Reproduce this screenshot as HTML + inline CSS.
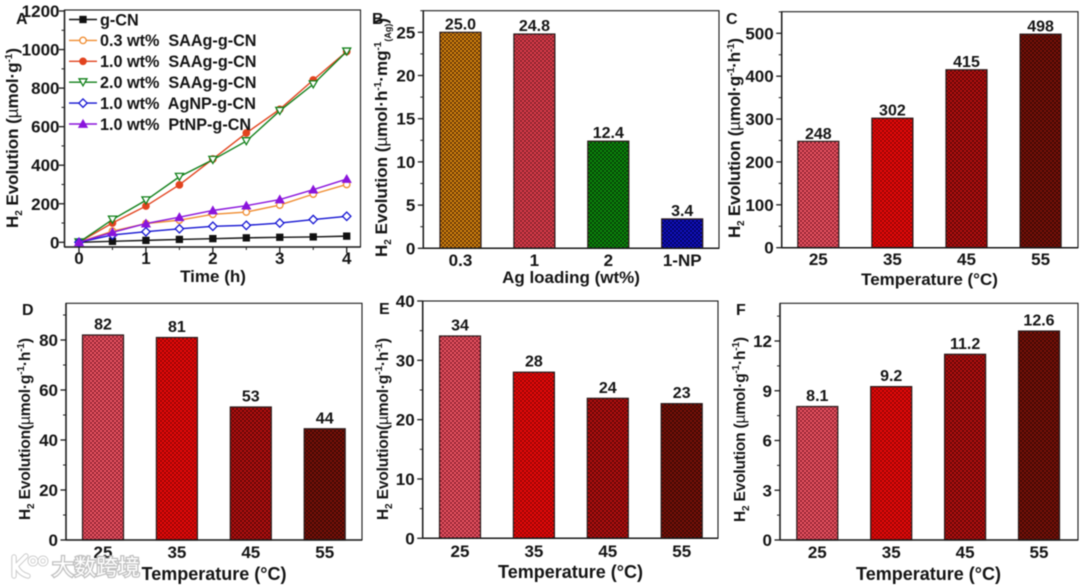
<!DOCTYPE html>
<html lang="en">
<head>
<meta charset="utf-8">
<title>H2 evolution charts</title>
<style>
html,body{margin:0;padding:0;background:#fff;width:1080px;height:587px;overflow:hidden}
svg{display:block;filter:blur(.45px)}
text{font-family:"Liberation Sans","Noto Sans CJK SC",sans-serif;font-weight:bold;fill:#151515}
.tick{font-size:17px}
.title{font-size:17px}
.title-lg{font-size:18px}
.letter{font-size:16px}
.val{font-size:16px}
.leg{font-size:16.2px}
.mu{font-weight:normal}
</style>
</head>
<body>
<svg id="figure" width="1080" height="587" viewBox="0 0 1080 587" xmlns="http://www.w3.org/2000/svg">
<defs id="defs"></defs>
<rect x="0" y="0" width="1080" height="587" fill="#fff"/>
<g id="plots"></g>

<g>
<text class="letter" x="16" y="24">A</text>
<text class="letter" x="372" y="24">B</text>
<text class="letter" x="726" y="24">C</text>
<text class="letter" x="22" y="315">D</text>
<text class="letter" x="379" y="314">E</text>
<text class="letter" x="736" y="315">F</text>
</g>

<g>
<text class="title" x="213" y="282" text-anchor="middle">Time (h)</text>
<text class="title" x="571" y="283" text-anchor="middle">Ag loading (wt%)</text>
<text class="title" x="929.5" y="285" text-anchor="middle">Temperature (°C)</text>
<text class="title-lg" x="214" y="580" text-anchor="middle">Temperature (°C)</text>
<text class="title-lg" x="570.5" y="578" text-anchor="middle">Temperature (°C)</text>
<text class="title-lg" x="928.5" y="580" text-anchor="middle">Temperature (°C)</text>
</g>

<g>
<text class="title" transform="translate(18,228) rotate(-90)" textLength="180">H<tspan dy="4" font-size="10">2</tspan><tspan dy="-4"> Evolution (</tspan><tspan class="mu">µ</tspan>mol·g<tspan dy="-6" font-size="10">-1</tspan><tspan dy="6">)</tspan></text>
<text class="title" transform="translate(387,257) rotate(-90)" textLength="239">H<tspan dy="4" font-size="10">2</tspan><tspan dy="-4"> Evolution (</tspan><tspan class="mu">µ</tspan>mol·h<tspan dy="-6" font-size="10">-1</tspan><tspan dy="6">·mg</tspan><tspan dy="-6" font-size="10">-1</tspan><tspan dy="10" font-size="9">(Ag)</tspan><tspan dy="-4">)</tspan></text>
<text class="title" transform="translate(740,238) rotate(-90)" textLength="200">H<tspan dy="4" font-size="10">2</tspan><tspan dy="-4"> Evolution (</tspan><tspan class="mu">µ</tspan>mol·g<tspan dy="-6" font-size="10">-1</tspan><tspan dy="6">·h</tspan><tspan dy="-6" font-size="10">-1</tspan><tspan dy="6">)</tspan></text>
<text class="title" transform="translate(30,520) rotate(-90)" textLength="182" style="font-size:15.5px">H<tspan dy="4" font-size="10">2</tspan><tspan dy="-4"> Evolution(</tspan><tspan class="mu">µ</tspan>mol·g<tspan dy="-6" font-size="10">-1</tspan><tspan dy="6">·h</tspan><tspan dy="-6" font-size="10">-1</tspan><tspan dy="6">)</tspan></text>
<text class="title" transform="translate(388,520) rotate(-90)" textLength="182" style="font-size:15.5px">H<tspan dy="4" font-size="10">2</tspan><tspan dy="-4"> Evolution(</tspan><tspan class="mu">µ</tspan>mol·g<tspan dy="-6" font-size="10">-1</tspan><tspan dy="6">·h</tspan><tspan dy="-6" font-size="10">-1</tspan><tspan dy="6">)</tspan></text>
<text class="title" transform="translate(745,522) rotate(-90)" textLength="185" style="font-size:15.5px">H<tspan dy="4" font-size="10">2</tspan><tspan dy="-4"> Evolution (</tspan><tspan class="mu">µ</tspan>mol·g<tspan dy="-6" font-size="10">-1</tspan><tspan dy="6">·h</tspan><tspan dy="-6" font-size="10">-1</tspan><tspan dy="6">)</tspan></text>
</g>

<g opacity="0.95">
<g fill="none" stroke="#fff" stroke-width="3.4" stroke-linecap="round">
<path d="M14 557 L14 576 M26 556 L16 566 Q20 574 28 576" stroke="#c9c9c9" stroke-width="5.4"/>
<path d="M14 557 L14 576 M26 556 L16 566 Q20 574 28 576"/>
<circle cx="33" cy="561" r="3.6" stroke="#c9c9c9" stroke-width="3.8"/>
<circle cx="43" cy="561" r="3.6" stroke="#c9c9c9" stroke-width="3.8"/>
<circle cx="33" cy="561" r="3.6" stroke-width="2"/>
<circle cx="43" cy="561" r="3.6" stroke-width="2"/>
</g>
<text x="52" y="575" font-size="22" style="font-family:'Noto Sans CJK SC',sans-serif;font-weight:normal;fill:#fff;stroke:#bdbdbd;stroke-width:2.6px;paint-order:stroke">大数跨境</text>
</g>
</svg>

<script>
// ---- Panel A data ----
const panelATime = [0, 0.5, 1, 1.5, 2, 2.5, 3, 3.5, 4];
const panelAGCN = [0, 5, 10, 15, 19, 23, 26, 28, 32];
const panelASAAg03 = [0, 58, 97, 115, 145, 157, 193, 250, 300];
const panelASAAg10 = [0, 100, 188, 298, 432, 567, 690, 842, 990];
const panelASAAg20 = [0, 118, 218, 340, 428, 525, 682, 820, 990];
const panelAAgNP = [0, 38, 55, 70, 83, 88, 100, 118, 135];
const panelAPtNP = [0, 52, 97, 130, 165, 190, 222, 273, 328];
const panelAYTicks = [0, 200, 400, 600, 800, 1000, 1200];
const panelAXTicks = [0, 1, 2, 3, 4];
const panelANames = ['g-CN', '0.3 wt%\u00a0 SAAg-g-CN', '1.0 wt%\u00a0 SAAg-g-CN', '2.0 wt%\u00a0 SAAg-g-CN', '1.0 wt%\u00a0 AgNP-g-CN', '1.0 wt%\u00a0 PtNP-g-CN'];

// ---- Panel B data ----
const panelBCategories = ['0.3', '1', '2', '1-NP'];
const panelBValues = [25.0, 24.8, 12.4, 3.4];
const panelBLabels = ['25.0', '24.8', '12.4', '3.4'];
const panelBTicks = [0, 5, 10, 15, 20, 25];

// ---- Panel C data ----
const panelCCategories = ['25', '35', '45', '55'];
const panelCValues = [248, 302, 415, 498];
const panelCLabels = ['248', '302', '415', '498'];
const panelCTicks = [0, 100, 200, 300, 400, 500];

// ---- Panel D data ----
const panelDCategories = ['25', '35', '45', '55'];
const panelDValues = [82, 81, 53.2, 44.5];
const panelDLabels = ['82', '81', '53', '44'];
const panelDTicks = [0, 20, 40, 60, 80];

// ---- Panel E data ----
const panelECategories = ['25', '35', '45', '55'];
const panelEValues = [34.1, 28, 23.6, 22.7];
const panelELabels = ['34', '28', '24', '23'];
const panelETicks = [0, 10, 20, 30, 40];

// ---- Panel F data ----
const panelFCategories = ['25', '35', '45', '55'];
const panelFValues = [8.05, 9.25, 11.2, 12.6];
const panelFLabels = ['8.1', '9.2', '11.2', '12.6'];
const panelFTicks = [0, 3, 6, 9, 12];

const NS = 'http://www.w3.org/2000/svg';
const plots = document.getElementById('plots');
const defs = document.getElementById('defs');
const AXIS = '#1a1a1a';

function mk(tag, attrs, parent) {
  const e = document.createElementNS(NS, tag);
  for (const k in attrs) e.setAttribute(k, attrs[k]);
  if (parent) parent.appendChild(e);
  return e;
}
function linearScale(d0, d1, r0, r1) {
  return function (v) { return r0 + (v - d0) * (r1 - r0) / (d1 - d0); };
}

// hatch patterns
const patternStyles = {
  orange: ['#e08c10', '#5e3204'], rose: ['#e5404e', '#82202a'],
  green: ['#0b8f0b', '#063c06'], blue: ['#1212c8', '#02025e'],
  t1: ['#f25a68', '#8e2030'], t2: ['#f20a0a', '#920404'],
  t3: ['#bc1010', '#5e0606'], t4: ['#801208', '#3a0704']
};
for (const id in patternStyles) {
  const p = mk('pattern', {id: 'hatch-' + id, width: 4, height: 4, patternUnits: 'userSpaceOnUse'}, defs);
  mk('rect', {width: 4, height: 4, fill: patternStyles[id][0]}, p);
  mk('rect', {width: 2, height: 2, fill: patternStyles[id][1]}, p);
  mk('rect', {x: 2, y: 2, width: 2, height: 2, fill: patternStyles[id][1]}, p);
}

function drawFrame(g, name, box) {
  const frame = mk('rect', {x: box.l, y: box.t, width: box.r - box.l, height: box.b - box.t, fill: 'none', stroke: AXIS, 'stroke-width': 1.1}, g);
  
  
  const left = mk('line', {x1: box.l, x2: box.l, y1: box.t, y2: box.b, stroke: AXIS, 'stroke-width': 1.5}, g);
  
  
  const bottom = mk('line', {x1: box.l, x2: box.r, y1: box.b, y2: box.b, stroke: AXIS, 'stroke-width': 1.5}, g);
  
  
}

function drawYTicks(g, name, box, y, ticks, labelGap) {
  const step = ticks[1] - ticks[0];
  let v = ticks[0];
  while (y(v + step / 2) > box.t) {
    const m = mk('line', {x1: box.l - 3, x2: box.l, y1: y(v + step / 2), y2: y(v + step / 2), stroke: AXIS, 'stroke-width': 1}, g);
    
    
    v += step;
  }
  ticks.forEach(function (t) {
    const l = mk('line', {x1: box.l - 5.5, x2: box.l, y1: y(t), y2: y(t), stroke: AXIS, 'stroke-width': 1.3}, g);
    
    
    const s = mk('text', {x: box.l - labelGap, y: y(t) + 6, 'text-anchor': 'end', class: 'tick'}, g);
    s.textContent = String(t);
    
    
  });
}

function drawBarPanel(name, box, yTop, topValue, zeroY, firstCenter, step, categories, values, labels, ticks, fills, labelBaseline, valueGap) {
  const g = mk('g', {}, plots);
  
  
  const y = linearScale(0, topValue, zeroY, yTop);
  const x = function (i) { return firstCenter + i * step; };
  const barWidth = 41;
  categories.forEach(function (c, i) {
    const r = mk('rect', {x: x(i) - barWidth / 2, y: y(values[i]), width: barWidth, height: y(0) - y(values[i]), fill: 'url(#hatch-' + fills[i] + ')', stroke: '#2a1a1a', 'stroke-width': 1.2}, g);
    
    
    const v = mk('text', {x: x(i), y: y(values[i]) - valueGap, 'text-anchor': 'middle', class: 'val'}, g);
    v.textContent = labels[i];
    
    
    const t = mk('text', {x: x(i), y: labelBaseline, 'text-anchor': 'middle', class: 'tick'}, g);
    t.textContent = c;
    
    
  });
  drawFrame(g, name, box);
  drawYTicks(g, name, box, y, ticks, 8);
}

function drawMarker(g, kind, px, py, color, fill) {
  const a = {stroke: color, 'stroke-width': 1.3, fill: fill};
  let m;
  if (kind === 'square') { a.x = px - 3; a.y = py - 3; a.width = 6; a.height = 6; m = mk('rect', a, g); }
  else if (kind === 'circle') { a.cx = px; a.cy = py; a.r = 3.2; m = mk('circle', a, g); }
  else if (kind === 'down') { a.points = [px - 4, py - 3.4, px + 4, py - 3.4, px, py + 3.6].join(' '); m = mk('polygon', a, g); }
  else if (kind === 'up') { a.points = [px - 4, py + 3.2, px + 4, py + 3.2, px, py - 3.8].join(' '); m = mk('polygon', a, g); }
  else { a.points = [px, py - 4.2, px + 4.2, py, px, py + 4.2, px - 4.2, py].join(' '); m = mk('polygon', a, g); }
  return m;
}

// ---- Panel A ----
(function () {
  const name = 'panel-a';
  const box = {l: 64.5, r: 360.5, t: 10, b: 247};
  const g = mk('g', {}, plots);
  
  
  const x = linearScale(0, 4, 79, 346.7);
  const y = linearScale(0, 1200, 242.3, 11);
  drawFrame(g, name, box);
  drawYTicks(g, name, box, y, panelAYTicks, 5);
  panelAXTicks.forEach(function (t, i) {
    const l = mk('line', {x1: x(t), x2: x(t), y1: box.b, y2: box.b + 6, stroke: AXIS, 'stroke-width': 1.3}, g);
    
    
    const s = mk('text', {x: x(t), y: 264, 'text-anchor': 'middle', class: 'tick'}, g);
    s.textContent = String(t);
    
    
    if (i < panelAXTicks.length - 1) {
      const mid = (t + panelAXTicks[i + 1]) / 2;
      const m = mk('line', {x1: x(mid), x2: x(mid), y1: box.b, y2: box.b + 3, stroke: AXIS, 'stroke-width': 1}, g);
      
      
    }
  });
  const series = [
    {values: panelAGCN, color: '#111111', fill: '#111111', kind: 'square', slug: 'g-cn'},
    {values: panelASAAg03, color: '#f08c30', fill: '#ffffff', kind: 'circle', slug: 'saag-03'},
    {values: panelASAAg10, color: '#e2431e', fill: '#e2431e', kind: 'circle', slug: 'saag-10'},
    {values: panelASAAg20, color: '#12801a', fill: '#ffffff', kind: 'down', slug: 'saag-20'},
    {values: panelAAgNP, color: '#1414d2', fill: '#ffffff', kind: 'diamond', slug: 'agnp'},
    {values: panelAPtNP, color: '#8a14dc', fill: '#8a14dc', kind: 'up', slug: 'ptnp'}
  ];
  const legendRowY = linearScale(0, 5, 19.5, 124);
  series.forEach(function (s, i) {
    const sg = mk('g', {}, g);
    
    
    const pts = panelATime.map(function (t, k) { return x(t) + ',' + y(s.values[k]); }).join(' ');
    const line = mk('polyline', {points: pts, fill: 'none', stroke: s.color, 'stroke-width': 1.4}, sg);
    
    
    panelATime.forEach(function (t, k) {
      const m = drawMarker(sg, s.kind, x(t), y(s.values[k]), s.color, s.fill);
      
      
    });
    const ly = legendRowY(i);
    const lg = mk('g', {}, g);
    
    
    const ll = mk('line', {x1: 69, x2: 97, y1: ly, y2: ly, stroke: s.color, 'stroke-width': 1.4}, lg);
    
    
    const lm = drawMarker(lg, s.kind, 83, ly, s.color, s.fill);
    
    
    const lt = mk('text', {x: 100, y: ly + 5.8, class: 'leg'}, lg);
    lt.textContent = panelANames[i];
    
    
  });
})();

// ---- Bar panels ----
const tempFills = ['t1', 't2', 't3', 't4'];
drawBarPanel('panel-b', {l: 423.3, r: 719, t: 10.7, b: 248.3}, 32.3, 25, 248.3, 460.5, 73.9, panelBCategories, panelBValues, panelBLabels, panelBTicks, ['orange', 'rose', 'green', 'blue'], 266, 3);
drawBarPanel('panel-c', {l: 781.7, r: 1078, t: 11.7, b: 247.7}, 33.3, 500, 247.7, 818.3, 74.1, panelCCategories, panelCValues, panelCLabels, panelCTicks, tempFills, 265, 2.5);
drawBarPanel('panel-d', {l: 66, r: 362, t: 303.3, b: 540}, 340, 80, 540, 103, 73.9, panelDCategories, panelDValues, panelDLabels, panelDTicks, tempFills, 558, 5.5);
drawBarPanel('panel-e', {l: 422.7, r: 718, t: 301, b: 538.3}, 301, 40, 538.3, 460, 73.9, panelECategories, panelEValues, panelELabels, panelETicks, tempFills, 557, 5.5);
drawBarPanel('panel-f', {l: 780, r: 1078, t: 303.3, b: 540}, 341, 12, 540, 817.3, 73.9, panelFCategories, panelFValues, panelFLabels, panelFTicks, tempFills, 558, 5.5);
</script>
</body>
</html>
